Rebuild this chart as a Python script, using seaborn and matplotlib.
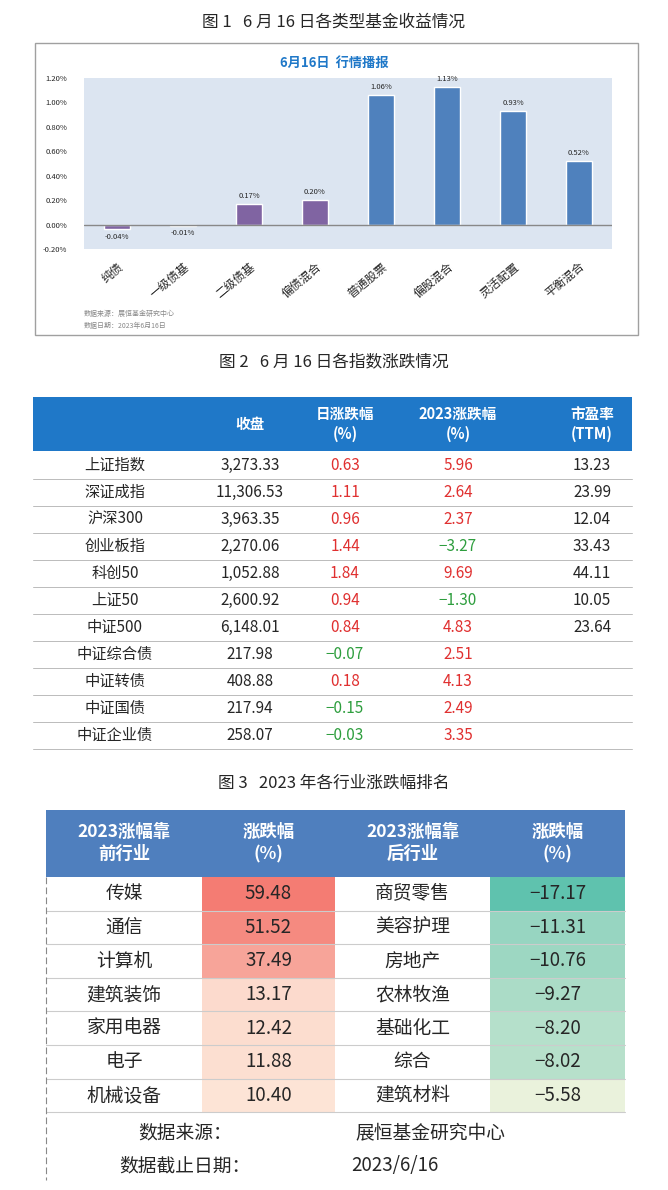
import matplotlib
matplotlib.use("Agg")
import matplotlib.pyplot as plt
import seaborn as sns
import pandas as pd
from matplotlib.patches import Rectangle
from matplotlib.colors import LinearSegmentedColormap
from matplotlib.ticker import FuncFormatter

sns.set_style("white")
plt.rcParams['font.family'] = ['Noto Sans CJK SC', 'DejaVu Sans']

# figure 1 data
fund_types = ["纯债", "一级债基", "二级债基", "偏债混合", "普通股票", "偏股混合", "灵活配置", "平衡混合"]
fund_returns = [-0.04, -0.01, 0.17, 0.20, 1.06, 1.13, 0.93, 0.52]

# figure 2 data
idx_names = ["上证指数", "深证成指", "沪深300", "创业板指", "科创50", "上证50", "中证500",
             "中证综合债", "中证转债", "中证国债", "中证企业债"]
idx_close = ["3,273.33", "11,306.53", "3,963.35", "2,270.06", "1,052.88", "2,600.92", "6,148.01",
             "217.98", "408.88", "217.94", "258.07"]
idx_day = [0.63, 1.11, 0.96, 1.44, 1.84, 0.94, 0.84, -0.07, 0.18, -0.15, -0.03]
idx_ytd = [5.96, 2.64, 2.37, -3.27, 9.69, -1.30, 4.83, 2.51, 4.13, 2.49, 3.35]
idx_pe = ["13.23", "23.99", "12.04", "33.43", "44.11", "10.05", "23.64", "", "", "", ""]

# figure 3 data
top_ind = ["传媒", "通信", "计算机", "建筑装饰", "家用电器", "电子", "机械设备"]
top_chg = [59.48, 51.52, 37.49, 13.17, 12.42, 11.88, 10.40]
bot_ind = ["商贸零售", "美容护理", "房地产", "农林牧渔", "基础化工", "综合", "建筑材料"]
bot_chg = [-17.17, -11.31, -10.76, -9.27, -8.20, -8.02, -5.58]

W, H = 668, 1190
fig = plt.figure(figsize=(W / 100, H / 100), dpi=100)
bg = fig.add_axes([0, 0, 1, 1])
bg.set_xlim(0, W)
bg.set_ylim(H, 0)
bg.axis("off")


def fax(x0, y0, x1, y1):
    return fig.add_axes([x0 / W, 1 - y1 / H, (x1 - x0) / W, (y1 - y0) / H])


# ---------- figure 1 ----------
bg.text(334, 22, "图 1   6 月 16 日各类型基金收益情况", ha="center", va="center", fontsize=12)
bg.add_patch(Rectangle((35, 43), 603, 292, fill=False, ec="#A0A0A0", lw=1))
bg.text(334, 63, "6月16日  行情播报", ha="center", va="center", fontsize=9.5,
        color="#1F78C8", fontweight="bold")
ax = fax(84, 78, 612, 249)
ax.set_facecolor("#DCE5F1")
df1 = pd.DataFrame({"type": fund_types, "ret": fund_returns})
colors = ["#8064A2"] * 4 + ["#4F81BD"] * 4
sns.barplot(data=df1, x="type", y="ret", hue="type", palette=colors, legend=False,
            width=0.4, ax=ax, saturation=1)
ax.axhline(0, color="#888888", lw=1)
ax.set_ylim(-0.2, 1.2)
ax.set_yticks([-0.2, 0, 0.2, 0.4, 0.6, 0.8, 1.0, 1.2])
ax.yaxis.set_major_formatter(FuncFormatter(lambda v, p: f"{v:.2f}%"))
ax.tick_params(axis="y", labelsize=5.5, length=0, pad=12)
ax.tick_params(axis="x", labelsize=8.5, length=0, pad=8)
for lab in ax.get_xticklabels():
    lab.set_rotation(40)
    lab.set_ha("right")
    lab.set_rotation_mode("anchor")
for i, v in enumerate(fund_returns):
    ax.text(i, v + (0.03 if v >= 0 else -0.03), f"{v:.2f}%", ha="center",
            va="bottom" if v >= 0 else "top", fontsize=5.5)
ax.set_xlabel("")
ax.set_ylabel("")
for s in ax.spines.values():
    s.set_visible(False)
bg.text(84, 314, "数据来源：展恒基金研究中心", fontsize=5, color="#888888", va="center")
bg.text(84, 326, "数据日期：2023年6月16日", fontsize=5, color="#888888", va="center")

# ---------- figure 2 ----------
bg.text(334, 362, "图 2   6 月 16 日各指数涨跌情况", ha="center", va="center", fontsize=12)
tx0, tx1 = 33, 632
bg.add_patch(Rectangle((tx0, 397), tx1 - tx0, 54, color="#1F78C8", lw=0))
cols2 = [115, 250, 345, 458, 592]
heads = ["", "收盘", "日涨跌幅\n(%)", "2023涨跌幅\n(%)", "市盈率\n(TTM)"]
for x, h in zip(cols2, heads):
    bg.text(x, 424, h, ha="center", va="center", color="white", fontsize=10.5,
            fontweight="bold", linespacing=1.3)
rh = 27
for r in range(len(idx_names)):
    yc = 452 + rh * (r + 0.5)
    bg.plot([tx0, tx1], [452 + rh * (r + 1)] * 2, color="#BBBBBB", lw=0.7)
    red, grn = "#E03030", "#2E9E3E"
    bg.text(cols2[0], yc, idx_names[r], ha="center", va="center", fontsize=11)
    bg.text(cols2[1], yc, idx_close[r], ha="center", va="center", fontsize=11)
    bg.text(cols2[2], yc, f"{idx_day[r]:.2f}".replace("-", "−"), ha="center", va="center",
            fontsize=11, color=red if idx_day[r] > 0 else grn)
    bg.text(cols2[3], yc, f"{idx_ytd[r]:.2f}".replace("-", "−"), ha="center", va="center",
            fontsize=11, color=red if idx_ytd[r] > 0 else grn)
    bg.text(cols2[4], yc, idx_pe[r], ha="center", va="center", fontsize=11)

# ---------- figure 3 ----------
bg.text(334, 783, "图 3   2023 年各行业涨跌幅排名", ha="center", va="center", fontsize=12)
xs = [46, 202, 335, 490, 625]
bg.add_patch(Rectangle((xs[0], 810), xs[-1] - xs[0], 67, color="#4F7FBE", lw=0))
h3 = ["2023涨幅靠\n前行业", "涨跌幅\n(%)", "2023涨幅靠\n后行业", "涨跌幅\n(%)"]
for i, h in enumerate(h3):
    bg.text((xs[i] + xs[i + 1]) / 2, 843, h, ha="center", va="center", color="white",
            fontsize=12.5, fontweight="bold", linespacing=1.3)
red_cmap = LinearSegmentedColormap.from_list("r", ["#FDE6D8", "#F47C73"])
grn_cmap = LinearSegmentedColormap.from_list("g", ["#EAF2DC", "#5FC2AE"])
rh3 = 33.6
for r in range(len(top_ind)):
    y0 = 877 + rh3 * r
    yc = y0 + rh3 / 2
    t = (top_chg[r] - 10) / (59.48 - 10)
    bg.add_patch(Rectangle((xs[1], y0), xs[2] - xs[1], rh3, color=red_cmap(t ** 0.8), lw=0))
    g = (bot_chg[r] + 5.58) / (-17.17 + 5.58)
    g = 0.2 + 0.8 * g if g > 0 else 0
    bg.add_patch(Rectangle((xs[3], y0), xs[4] - xs[3], rh3, color=grn_cmap(g), lw=0))
    bg.plot([xs[0], xs[-1]], [y0 + rh3] * 2, color="#CCCCCC", lw=0.8)
    bg.text((xs[0] + xs[1]) / 2, yc, top_ind[r], ha="center", va="center", fontsize=13.5)
    bg.text((xs[1] + xs[2]) / 2, yc, f"{top_chg[r]:.2f}", ha="center", va="center", fontsize=13.5)
    bg.text((xs[2] + xs[3]) / 2, yc, bot_ind[r], ha="center", va="center", fontsize=13.5)
    bg.text((xs[3] + xs[4]) / 2, yc, f"{bot_chg[r]:.2f}".replace("-", "−"), ha="center",
            va="center", fontsize=13.5)
bg.plot([xs[0], xs[0]], [877, 1180], color="#888888", lw=0.8, ls=(0, (6, 3)))
bg.text(185, 1133, "数据来源：", ha="center", va="center", fontsize=13.5)
bg.text(430, 1133, "展恒基金研究中心", ha="center", va="center", fontsize=13.5)
bg.text(185, 1166, "数据截止日期：", ha="center", va="center", fontsize=13.5)
bg.text(395, 1166, "2023/6/16", ha="center", va="center", fontsize=13.5)

fig.savefig("out.png", dpi=100)
